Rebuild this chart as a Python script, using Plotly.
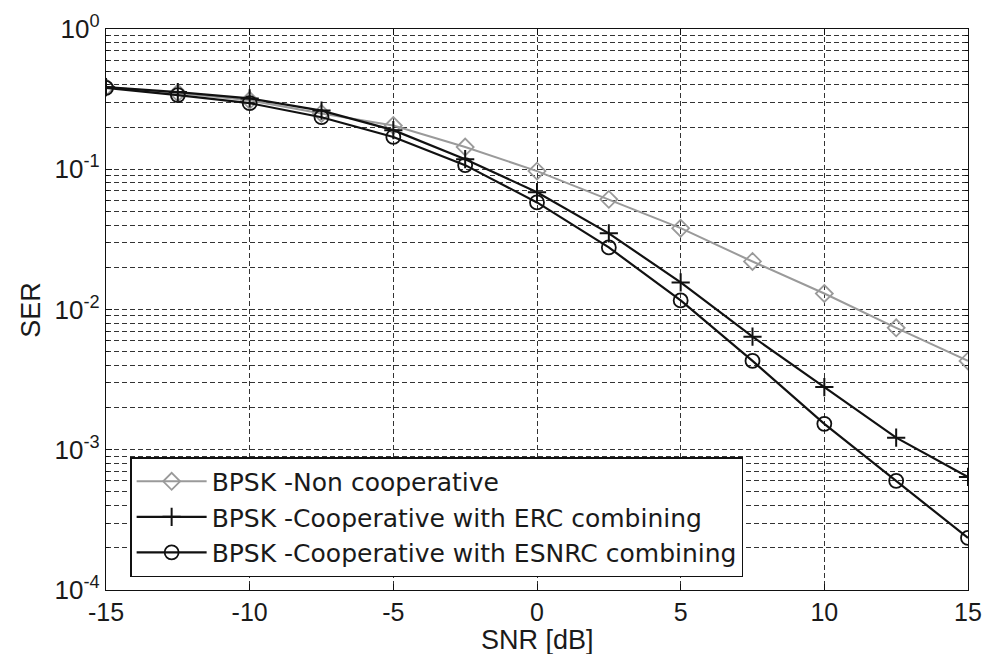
import plotly.graph_objects as go

snr_db = [-15, -12.5, -10, -7.5, -5, -2.5, 0, 2.5, 5, 7.5, 10, 12.5, 15]
ser_noncoop = [0.385, 0.35, 0.31, 0.25, 0.205, 0.144, 0.097, 0.061, 0.038, 0.022, 0.013, 0.0074, 0.0043]
ser_erc = [0.385, 0.355, 0.32, 0.262, 0.19, 0.118, 0.0686, 0.0349, 0.0156, 0.0064, 0.0028, 0.00122, 0.00064]
ser_esnrc = [0.38, 0.338, 0.296, 0.235, 0.17, 0.107, 0.058, 0.0277, 0.0116, 0.0043, 0.00153, 0.0006, 0.000235]

names = ["BPSK -Non cooperative",
         "BPSK -Cooperative with ERC combining",
         "BPSK -Cooperative with ESNRC combining"]

x_ticks = [-15, -10, -5, 0, 5, 10, 15]
y_decades = [-4, -3, -2, -1, 0]

x_title = "SNR [dB]"
y_title = "SER"

font_family = "Liberation Sans, Arial, sans-serif"
legend_family = "DejaVu Sans, Liberation Sans, sans-serif"
txt_color = "#1a1a1a"
grid_color = "#333333"

fig = go.Figure()
fig.add_trace(go.Scatter(
    x=snr_db, y=ser_noncoop, name=names[0], mode="lines+markers",
    line=dict(color="#9a9a9a", width=2),
    marker=dict(symbol="diamond-open", size=13, color="#9a9a9a", line=dict(width=1.8, color="#9a9a9a")),
))
fig.add_trace(go.Scatter(
    x=snr_db, y=ser_erc, name=names[1], mode="lines+markers",
    line=dict(color="#111111", width=2.2),
    marker=dict(symbol="cross-thin", size=13, color="#111111", line=dict(width=2, color="#111111")),
))
fig.add_trace(go.Scatter(
    x=snr_db, y=ser_esnrc, name=names[2], mode="lines+markers",
    line=dict(color="#111111", width=2.2),
    marker=dict(symbol="circle-open", size=14, color="#111111", line=dict(width=1.8, color="#111111")),
))

y_tickvals = [10.0 ** d for d in y_decades]
y_ticktext = ["10<sup>%d</sup>" % d for d in y_decades]
y_minor = [m * 10.0 ** d for d in y_decades[:-1] for m in range(2, 10)]

fig.update_layout(
    width=985, height=654,
    margin=dict(l=106, r=17, t=29, b=64),
    paper_bgcolor="white", plot_bgcolor="white",
    font=dict(family=font_family, color=txt_color, size=25),
    showlegend=True,
    legend=dict(
        x=0.028, y=0.023, xanchor="left", yanchor="bottom",
        bgcolor="white", bordercolor="#111111", borderwidth=1.5,
        font=dict(size=25, family=legend_family, color=txt_color),
        itemwidth=70, tracegroupgap=0,
    ),
    xaxis=dict(
        range=[-15, 15], tickvals=x_ticks, ticktext=[str(v) for v in x_ticks],
        showline=True, linecolor="#111111", linewidth=1.3, mirror="ticks",
        ticks="inside", ticklen=6, tickcolor="#111111",
        showgrid=True, gridcolor=grid_color, gridwidth=1, griddash="5px,3px",
        zeroline=False, automargin=False,
        tickfont=dict(size=25),
    ),
    yaxis=dict(
        type="log", range=[-4, 0], tickvals=y_tickvals, ticktext=y_ticktext,
        showline=True, linecolor="#111111", linewidth=1.3, mirror="ticks",
        ticks="inside", ticklen=6, tickcolor="#111111",
        showgrid=True, gridcolor=grid_color, gridwidth=1, griddash="5px,3px",
        zeroline=False, automargin=False,
        minor=dict(tickvals=y_minor, ticks="inside", ticklen=3, tickcolor="#111111",
                   showgrid=True, gridcolor=grid_color, gridwidth=1, griddash="5px,3px"),
        tickfont=dict(size=26),
    ),
    annotations=[
        dict(text=x_title, xref="paper", yref="paper", x=0.5, y=-0.089,
             xanchor="center", yanchor="middle", showarrow=False,
             font=dict(size=27, family=font_family, color=txt_color)),
        dict(text=y_title, xref="paper", yref="paper", x=-0.088, y=0.5,
             xanchor="center", yanchor="middle", showarrow=False, textangle=-90,
             font=dict(size=27, family=font_family, color=txt_color)),
    ],
)

fig.write_html(
    "out.html",
    config={"displayModeBar": False},
    post_script="document.body.style.margin='0';document.body.style.overflow='hidden';",
)
